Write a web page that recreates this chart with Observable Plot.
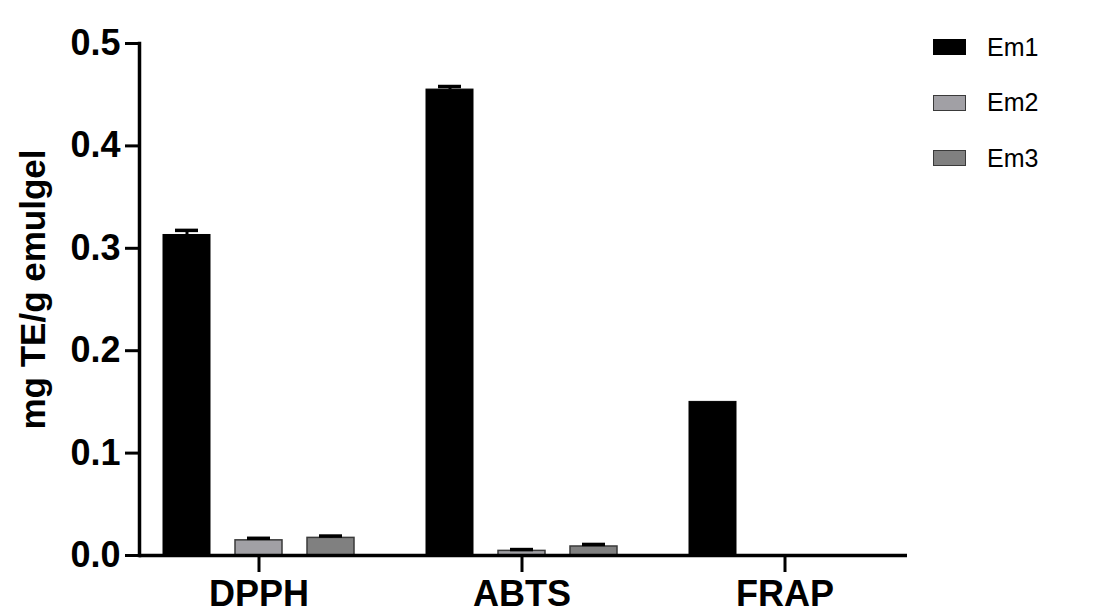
<!DOCTYPE html>
<html>
<head>
<meta charset="utf-8">
<script src="https://cdn.jsdelivr.net/npm/d3@7"></script>
<script src="https://cdn.jsdelivr.net/npm/@observablehq/plot@0.6"></script>
<style>
  html, body { margin: 0; padding: 0; background: #fff; }
  #wrap { position: relative; width: 1111px; height: 611px; font-family: "Liberation Sans", Arial, sans-serif; }
  #legend { position: absolute; left: 933px; top: 33px; }
  .item { display: flex; align-items: center; height: 28px; margin-bottom: 27.5px; }
  .sw { width: 33px; height: 16px; box-sizing: border-box; margin-right: 21px; }
  .lab { font-size: 25px; color: #000; }
</style>
</head>
<body>
<div id="wrap"></div>
<script>
const categories = ["DPPH", "ABTS", "FRAP"];
const series = ["Em1", "Em2", "Em3"];
const em1 = [0.313, 0.455, 0.150];
const em2 = [0.0148, 0.0045, 0.0];
const em3 = [0.0172, 0.0088, 0.0];
const em1Err = [0.0045, 0.003, 0.0];
const em2Err = [0.002, 0.0013, 0.0];
const em3Err = [0.0018, 0.002, 0.0];
const yTicks = [0, 0.1, 0.2, 0.3, 0.4, 0.5];
const fills = ["#000000", "#a1a0a5", "#808080"];
const strokes = ["#000000", "#3a3a3a", "#3a3a3a"];

const values = [em1, em2, em3];
const errs = [em1Err, em2Err, em3Err];
const offsets = [-72, 0, 72];

const marks = [];
series.forEach((s, i) => {
  const rows = categories.map((c, j) => ({cat: c, series: s, value: values[i][j], err: errs[i][j]}));
  const withBars = rows.filter(d => d.value > 0);
  const withErr = rows.filter(d => d.err > 0);
  marks.push(Plot.barY(withBars, {
    x: "cat", y: "value", dx: offsets[i], insetLeft: 108, insetRight: 108,
    fill: fills[i], stroke: strokes[i], strokeWidth: i === 0 ? 1 : 1.5
  }));
  marks.push(Plot.ruleX(withErr, {
    x: "cat", y1: "value", y2: d => d.value + d.err, dx: offsets[i], stroke: "#000", strokeWidth: 3
  }));
  marks.push(Plot.tickY(withErr, {
    x: "cat", y: d => d.value + d.err, dx: offsets[i], insetLeft: 120, insetRight: 120, stroke: "#000", strokeWidth: 3.5
  }));
});

const chart = Plot.plot({
  width: 1111,
  height: 611,
  marginLeft: 139,
  marginRight: 204,
  marginTop: 43,
  marginBottom: 56,
  style: {fontFamily: "'Liberation Sans', Arial, sans-serif", background: "#fff", color: "#000"},
  x: {domain: categories, range: [127, 916], padding: 0},
  y: {domain: [0, 0.5]},
  marks: [
    ...marks,
    Plot.ruleY([0], {stroke: "#000", strokeWidth: 3.5}),
    Plot.frame({anchor: "left", stroke: "#000", strokeWidth: 3.5}),
    Plot.axisY({ticks: yTicks, tickFormat: d3.format(".1f"), tickSize: 14, tickPadding: 5,
      fontSize: 36, fontWeight: "bold", strokeWidth: 3, label: null}),
    Plot.axisX({tickSize: 17, tickPadding: 8, fontSize: 36, fontWeight: "bold", strokeWidth: 3, label: null}),
    Plot.text(["mg TE/g emulgel"], {frameAnchor: "left", rotate: -90, dx: -106, dy: -10,
      textAnchor: "middle", fontSize: 35, fontWeight: "bold", fill: "#000"})
  ]
});

const wrap = document.getElementById("wrap");
wrap.appendChild(chart);

const legend = document.createElement("div");
legend.id = "legend";
series.forEach((s, i) => {
  const item = document.createElement("div");
  item.className = "item";
  const sw = document.createElement("div");
  sw.className = "sw";
  sw.style.background = fills[i];
  sw.style.border = `1.5px solid ${strokes[i]}`;
  const lab = document.createElement("span");
  lab.className = "lab";
  lab.textContent = s;
  item.appendChild(sw);
  item.appendChild(lab);
  legend.appendChild(item);
});
wrap.appendChild(legend);
</script>
</body>
</html>
